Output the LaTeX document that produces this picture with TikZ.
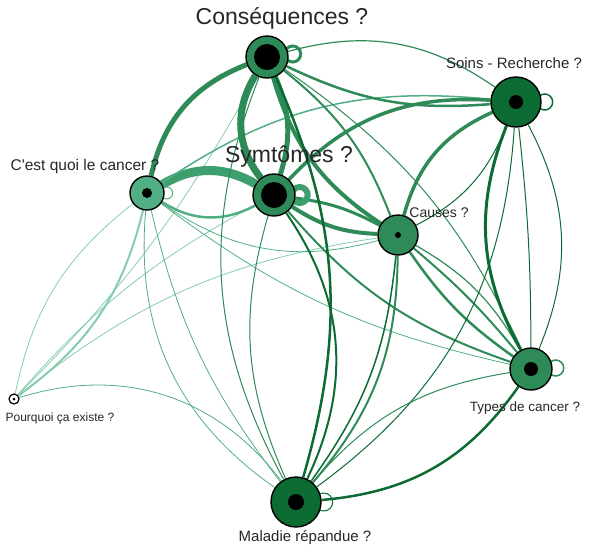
\documentclass[tikz,border=0pt]{standalone}
\usepackage{fontspec}
\setmainfont{Liberation Sans}
\usetikzlibrary{backgrounds}

\definecolor{gmid}{HTML}{2E8B57}
\definecolor{gdark}{HTML}{0B6B32}
\definecolor{glight}{HTML}{52AE84}
\definecolor{gqs}{HTML}{3D9E6E}
\definecolor{gpale}{HTML}{86CCAD}

\begin{document}
\begin{tikzpicture}[
x=1pt, y=-1pt,
vert/.style={circle, draw=black, line width=1.4pt, inner sep=0pt, minimum size=#1},
dot/.style={path picture={\fill[black] (path picture bounding box.center) circle (#1);}},
lbl/.style={inner sep=0pt, text=black!85, font=\fontsize{#1}{#1}\selectfont},
link/.style={line width=#1}
]
\useasboundingbox (0,0) rectangle (589,547);

\node[vert=42pt, fill=gmid, dot=13pt] (conseq) at (267,57) {};
\node[vert=50pt, fill=gdark, dot=7pt] (soins) at (516,102) {};
\node[vert=34pt, fill=glight, dot=5pt] (quoi) at (147,193) {};
\node[vert=42pt, fill=gmid, dot=13pt] (symt) at (274,195) {};
\node[vert=40pt, fill=gmid, dot=3pt] (causes) at (398,235) {};
\node[vert=10pt, fill=white, dot=1.5pt, line width=1.2pt] (pourquoi) at (14,399) {};
\node[vert=42pt, fill=gmid, dot=7pt] (types) at (531,369) {};
\node[vert=50pt, fill=gdark, dot=8pt] (maladie) at (296,502) {};

\node[lbl=23] (conseq-l) at (282,18) {Conséquences ?};
\node[lbl=23] (symt-l) at (289,157) {Symtômes ?};
\node[lbl=15] (soins-l) at (514,63) {Soins - Recherche ?};
\node[lbl=15.5] (quoi-l) at (85,166) {C\textquotesingle est quoi le cancer ?};
\node[lbl=14] (causes-l) at (439,213) {Causes ?};
\node[lbl=12] (pourquoi-l) at (60,418) {Pourquoi ça existe ?};
\node[lbl=13.5] (types-l) at (525,408) {Types de cancer ?};
\node[lbl=15] (maladie-l) at (305,538) {Maladie répandue ?};

\begin{scope}[on background layer]
% pourquoi
\draw[gpale, link=2pt] (pourquoi) to[bend right=20] (quoi);
\draw[gpale, link=0.8pt] (quoi) to[bend right=20] (pourquoi);
\draw[gpale, link=0.8pt] (pourquoi) to[bend right=8] (conseq);
\draw[gpale, link=0.8pt] (pourquoi) to[bend left=10] (symt);
\draw[gpale, link=0.8pt] (pourquoi) to[bend left=15] (causes);
\draw[glight, link=0.8pt] (pourquoi) to[bend left=35] (maladie);
% quoi
\draw[gqs, link=9pt] (quoi) to[bend left=30] (symt);
\draw[glight, link=2.5pt] (symt) to[bend left=30] (quoi);
\draw[gmid, link=5pt] (quoi) to[bend left=28] (conseq);
\draw[glight, link=0.8pt] (quoi) to[bend right=25] (causes);
\draw[glight, link=1.5pt] (quoi) to[bend left=20] (soins);
\draw[glight, link=0.8pt] (quoi) to[bend right=12] (types);
\draw[glight, link=0.8pt] (quoi) to[bend right=30] (maladie);
\draw[glight, link=0.8pt] (quoi) to[bend right=12] (maladie);
% conseq
\draw[gmid, link=7pt] (conseq) to[bend right=35] (symt);
\draw[gmid, link=5pt] (conseq) to[bend left=20] (symt);
\draw[gmid, link=1.2pt] (conseq) to[bend left=25] (soins);
\draw[gmid, link=2.5pt] (conseq) to[bend right=15] (soins);
\draw[gmid, link=4pt] (conseq) to[bend right=20] (causes);
\draw[gmid, link=2pt] (conseq) to[bend left=15] (causes);
\draw[gmid, link=1pt] (conseq) to[bend left=15] (types);
\draw[gmid, link=1pt] (conseq) to[bend right=25] (maladie);
% symt
\draw[gmid, link=3.5pt] (symt) to[bend left=25] (soins);
\draw[gmid, link=4pt] (symt) to[bend right=15] (causes);
\draw[gmid, link=3pt] (symt) to[bend left=10] (causes);
\draw[gmid, link=2pt] (symt) to[bend right=15] (types);
\draw[gmid, link=1pt] (symt) to[bend right=20] (maladie);
% causes
\draw[gmid, link=3.5pt] (causes) to[bend left=25] (soins);
\draw[gmid, link=2pt] (causes) to[bend left=5] (types);
\draw[gmid, link=1.2pt] (causes) to[bend left=15] (types);
\draw[gmid, link=2.5pt] (causes) to[bend right=10] (types);
\draw[gmid, link=2pt] (causes) to[bend left=20] (maladie);
% soins
\draw[gdark, link=1pt] (soins) to[bend left=20] (causes);
\draw[gdark, link=3pt] (soins) to[bend right=25] (types);
\draw[gdark, link=1pt] (soins) to[bend left=25] (types);
\draw[gdark, link=1pt] (soins) to[bend left=3] (types);
% types, maladie
\draw[gmid, link=1pt] (types) to[bend right=20] (maladie);
\draw[gdark, link=2.5pt] (maladie) to[bend right=25] (types);
\draw[gdark, link=1pt] (maladie) to[bend right=25] (soins);
\draw[gdark, link=1.5pt] (maladie) to[bend right=15] (causes);
\draw[gdark, link=2.5pt] (maladie) to[bend right=20] (conseq);
\draw[gdark, link=2pt] (maladie) to[bend right=30] (symt);
% loops
\draw[gmid, link=3pt] ([shift={(4,-3)}]conseq.east) circle (8pt);
\draw[gqs, link=6pt] ([shift={(4,0)}]symt.east) circle (8pt);
\draw[glight, link=1pt] ([shift={(2,0)}]quoi.east) circle (6pt);
\draw[gdark, link=1.5pt] ([shift={(3,0)}]soins.east) circle (8pt);
\draw[gmid, link=1.5pt] ([shift={(3,-1)}]types.east) circle (8pt);
\draw[gdark, link=1pt] ([shift={(2,0)}]maladie.east) circle (9pt);
\end{scope}
\end{tikzpicture}
\end{document}
